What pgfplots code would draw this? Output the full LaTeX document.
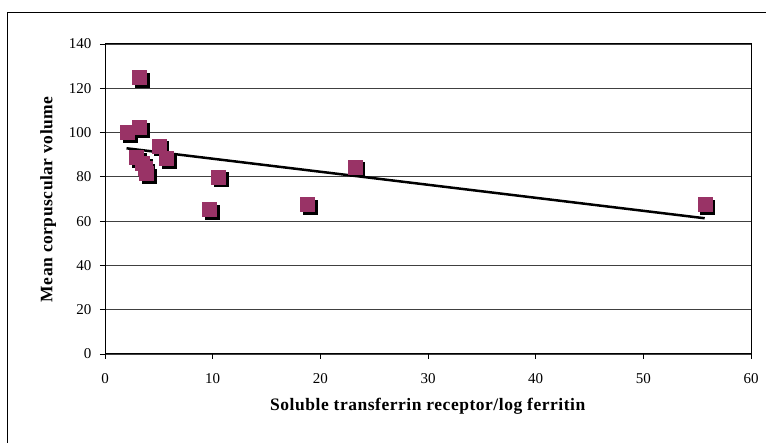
\documentclass[border=0pt]{standalone}
\usepackage{pgfplots}
\pgfplotsset{compat=1.18}
\usepackage{fontspec}
\setmainfont{Liberation Serif}
\definecolor{mk}{HTML}{993366}
\begin{document}
\begin{tikzpicture}[x=1pt,y=1pt]
\useasboundingbox (0,0) rectangle (766,443);
\draw[line width=1pt] (7.5,-20) -- (7.5,430.5) -- (800,430.5);
\begin{axis}[
  at={(105pt,89pt)}, anchor=south west,
  scale only axis, width=646pt, height=310pt,
  xmin=0, xmax=60, ymin=0, ymax=140,
  xtick={0,10,...,60}, ytick={0,20,...,140},
  ymajorgrids, major grid style={black!75, line width=0.9pt},
  axis line style={black, line width=1pt},
  tick align=outside, tick pos=left,
  major tick length=5pt, tick style={black, line width=0.8pt},
  ticklabel style={font=\fontsize{15}{17}\selectfont},
  /pgf/number format/assume math mode=true,
  xticklabel style={yshift=-11pt},
  yticklabel style={xshift=-5pt},
  xlabel={\textbf{Soluble transferrin receptor/log ferritin}},
  ylabel={\textbf{Mean corpuscular volume}},
  label style={font=\fontsize{17.5}{20}\selectfont\addfontfeatures{LetterSpace=3}},
  xlabel style={yshift=-8pt},
  ylabel style={yshift=6pt},
  clip=false,
]
\addplot[only marks, mark=square*, mark size=7pt, black,
  mark options={xshift=2.8pt, yshift=-2.8pt}] coordinates {
(3.2,125) (2.1,100) (3.2,102.5) (5.0,94) (5.7,88.5) (2.9,89) (3.5,86)
(3.7,84) (3.8,81.5) (10.5,80) (9.7,65.5) (18.8,67.5) (23.2,84.5) (55.7,67.5)};
\addplot[only marks, mark=square*, mark size=7pt, mk, draw=mk] coordinates {
(3.2,125) (2.1,100) (3.2,102.5) (5.0,94) (5.7,88.5) (2.9,89) (3.5,86)
(3.7,84) (3.8,81.5) (10.5,80) (9.7,65.5) (18.8,67.5) (23.2,84.5) (55.7,67.5)};
\addplot[black, line width=2.5pt, no marks] coordinates {(2.0,92.9) (55.7,61.3)};
\end{axis}
\end{tikzpicture}
\end{document}
